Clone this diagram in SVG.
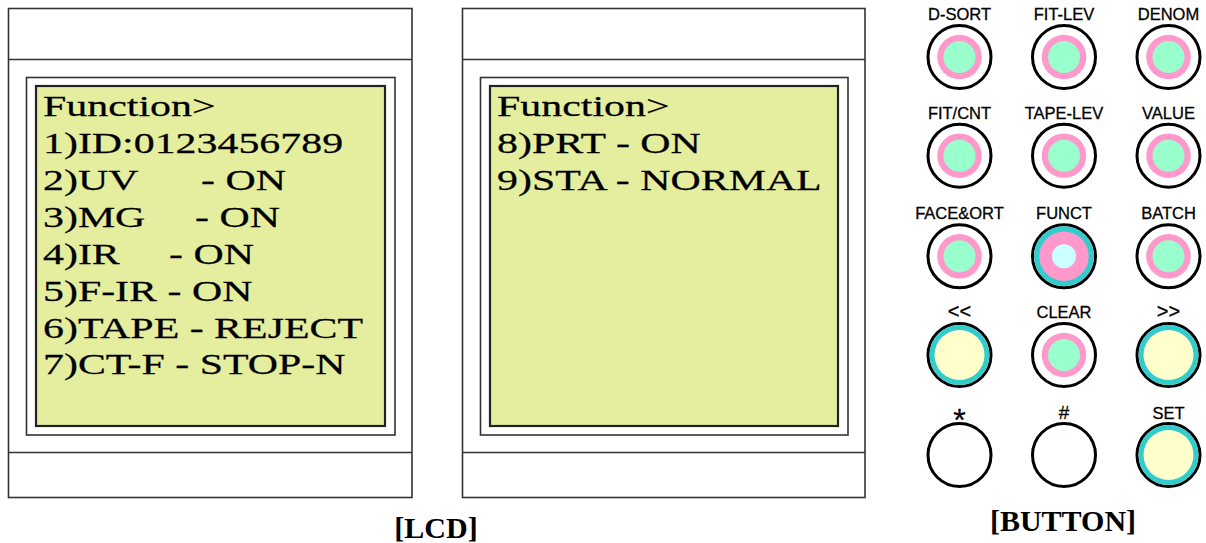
<svg xmlns="http://www.w3.org/2000/svg" width="1206" height="543" viewBox="0 0 1206 543">
<style>
.frame{fill:#fff;stroke:#333;stroke-width:1.6}
.inner{fill:#fff;stroke:#333;stroke-width:1.6}
.screen{fill:#e5ee9f;stroke:#222;stroke-width:2.2}
.sep{stroke:#333;stroke-width:1.6}
.lcd{font-family:"Liberation Serif","Times New Roman",serif;font-size:29.5px;fill:#000;stroke:#000;stroke-width:0.25}
.cap{font-family:"Liberation Serif","Times New Roman",serif;font-size:30px;font-weight:bold;fill:#000;text-anchor:middle}
.lbl{font-family:"Liberation Sans",Arial,sans-serif;font-size:16.5px;fill:#000;stroke:#000;stroke-width:0.3;text-anchor:middle}
.ring{fill:#fff;stroke:#000;stroke-width:3}
.pink{fill:#ff99cc}
.green{fill:#99ffcc}
.teal{fill:#33cccc}
.yellow{fill:#ffffcc}
.cyan{fill:#ccffff}
</style>
<defs>
<g id="bPG"><circle class="ring" r="31.5"/><circle class="pink" r="22.3"/><circle class="green" r="16"/></g>
<g id="bTY"><circle class="ring" r="31.5"/><circle class="teal" r="30"/><circle class="yellow" r="25"/></g>
<g id="bF"><circle class="ring" r="31.5"/><circle class="teal" r="30"/><circle class="pink" r="24.7"/><circle class="cyan" r="12"/></g>
<g id="bW"><circle class="ring" r="31.5"/></g>
</defs>

<g id="lcd1">
<rect class="frame" x="8.5" y="8.5" width="403.5" height="489"/>
<line class="sep" x1="8.5" y1="59.5" x2="412" y2="59.5"/>
<line class="sep" x1="8.5" y1="452.5" x2="412" y2="452.5"/>
<rect class="inner" x="26.5" y="77.5" width="368.5" height="357.5"/>
<rect class="screen" x="36" y="86" width="349" height="340"/>
<text class="lcd" transform="translate(43,116) scale(1.42,1)">Function&gt;</text>
<text class="lcd" transform="translate(43,153) scale(1.42,1)">1)ID:0123456789</text>
<text class="lcd" transform="translate(43,190) scale(1.42,1)">2)UV</text>
<text class="lcd" transform="translate(201,190) scale(1.42,1)">- ON</text>
<text class="lcd" transform="translate(43,227) scale(1.42,1)">3)MG</text>
<text class="lcd" transform="translate(195,227) scale(1.42,1)">- ON</text>
<text class="lcd" transform="translate(43,264) scale(1.42,1)">4)IR</text>
<text class="lcd" transform="translate(169,264) scale(1.42,1)">- ON</text>
<text class="lcd" transform="translate(43,301) scale(1.42,1)">5)F-IR - ON</text>
<text class="lcd" transform="translate(43,338) scale(1.42,1)">6)TAPE - REJECT</text>
<text class="lcd" transform="translate(43,374) scale(1.42,1)">7)CT-F - STOP-N</text>
</g>

<g id="lcd2">
<rect class="frame" x="462.5" y="8.5" width="402.5" height="489"/>
<line class="sep" x1="462.5" y1="59.5" x2="865" y2="59.5"/>
<line class="sep" x1="462.5" y1="452.5" x2="865" y2="452.5"/>
<rect class="inner" x="480.5" y="77.5" width="367.5" height="357.5"/>
<rect class="screen" x="490" y="86" width="348" height="340"/>
<text class="lcd" transform="translate(497,116) scale(1.42,1)">Function&gt;</text>
<text class="lcd" transform="translate(497,153) scale(1.42,1)">8)PRT - ON</text>
<text class="lcd" transform="translate(497,190) scale(1.42,1)">9)STA - NORMAL</text>
</g>

<g id="caption-lcd"><text class="cap" x="436" y="538">[LCD]</text></g>
<g id="caption-button"><text class="cap" x="1063" y="531">[BUTTON]</text></g>

<g id="btn-dsort"><text class="lbl" x="959.5" y="20">D-SORT</text><use href="#bPG" x="959.5" y="57"/></g>
<g id="btn-fitlev"><text class="lbl" x="1064" y="20">FIT-LEV</text><use href="#bPG" x="1064" y="57"/></g>
<g id="btn-denom"><text class="lbl" x="1168.5" y="20">DENOM</text><use href="#bPG" x="1168.5" y="57"/></g>

<g id="btn-fitcnt"><text class="lbl" x="959.5" y="118.5">FIT/CNT</text><use href="#bPG" x="959.5" y="155.7"/></g>
<g id="btn-tapelev"><text class="lbl" x="1064" y="118.5">TAPE-LEV</text><use href="#bPG" x="1064" y="155.7"/></g>
<g id="btn-value"><text class="lbl" x="1168.5" y="118.5">VALUE</text><use href="#bPG" x="1168.5" y="155.7"/></g>

<g id="btn-faceort"><text class="lbl" x="959.5" y="218.5">FACE&amp;ORT</text><use href="#bPG" x="959.5" y="256.3"/></g>
<g id="btn-funct"><text class="lbl" x="1064" y="218.5">FUNCT</text><use href="#bF" x="1064" y="256.3"/></g>
<g id="btn-batch"><text class="lbl" x="1168.5" y="218.5">BATCH</text><use href="#bPG" x="1168.5" y="256.3"/></g>

<g id="btn-prev"><text class="lbl" x="959.5" y="318" style="font-size:20px">&lt;&lt;</text><use href="#bTY" x="959.5" y="355"/></g>
<g id="btn-clear"><text class="lbl" x="1064" y="317.5">CLEAR</text><use href="#bPG" x="1064" y="355"/></g>
<g id="btn-next"><text class="lbl" x="1168.5" y="318" style="font-size:20px">&gt;&gt;</text><use href="#bTY" x="1168.5" y="355"/></g>

<g id="btn-star"><text class="lbl" x="959.5" y="431" style="font-size:32px">*</text><use href="#bW" x="959.5" y="455"/></g>
<g id="btn-hash"><text class="lbl" x="1064" y="419" style="font-size:19px">#</text><use href="#bW" x="1064" y="455"/></g>
<g id="btn-set"><text class="lbl" x="1168.5" y="418.5">SET</text><use href="#bTY" x="1168.5" y="455"/></g>
</svg>
